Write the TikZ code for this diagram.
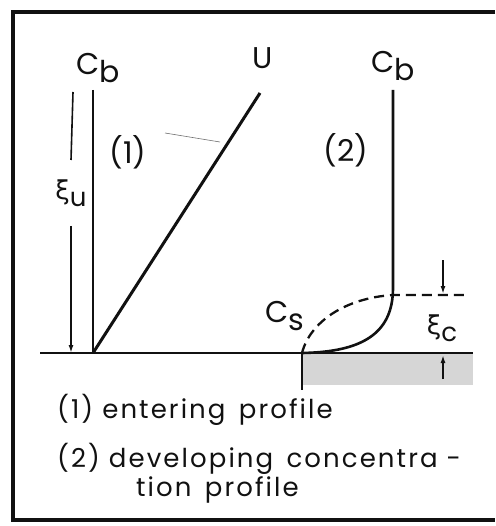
\documentclass[tikz,border=0pt]{standalone}
\usepackage{fontspec}
\setmainfont{Poppins}
\newfontfamily\grk{DejaVu Sans}
\newfontfamily\wide[LetterSpace=8]{Poppins}
\usepackage{tikz}
\usetikzlibrary{positioning,arrows.meta,calc}
\definecolor{cInk}{HTML}{111111}
\definecolor{cShade}{HTML}{D6D6D6}
\tikzset{
	prof/.style={draw=cInk, line width=2.6pt},
	thinl/.style={draw=cInk, line width=1.6pt},
	arr/.style={-{Latex[length=8pt,width=5pt]}, draw=cInk, line width=1.6pt},
	lab/.style={font=\fontsize{30}{34}\selectfont, text=cInk, inner sep=0pt},
	small/.style={font=\fontsize{26}{30}\selectfont, text=cInk, inner sep=0pt},
	legend/.style={font=\wide\fontsize{26}{30}\selectfont, text=cInk, inner sep=0pt, anchor=west, align=left},
}
\newcommand{\subb}[1]{\raisebox{-0.5ex}{#1}}

\begin{document}
\begin{tikzpicture}[x=1pt,y=-1pt]
	\useasboundingbox (0,0) rectangle (495,526);
	% frame
	\draw[cInk, line width=3.5pt] (495,12) -- (13,12) -- (13,520) -- (495,520);
	% key points
	\coordinate (o1) at (93,353);
	\coordinate (cb1) at (93,90);
	\coordinate (utop) at (260,93);
	\coordinate (bs) at (40,353);
	\coordinate (be) at (473,353);
	\coordinate (cs) at (302,353);
	\coordinate (cb2) at (393,90);
	\coordinate (knee) at (393,288);
	\coordinate (dknee) at (393,295);
	\coordinate (dend) at (468,295);
	\coordinate (tick) at (302,390);
	% wall shading
	\fill[cShade] (cs) rectangle (473,385);
	% profiles
	\draw[thinl, line width=2pt] (bs) -- (be);
	\draw[prof] (cb1) -- (o1);
	\draw[prof, line width=3pt] (o1) -- (utop);
	\draw[prof] (cb2) -- (knee) .. controls (393,335) and (360,352) .. (cs);
	\draw[prof, dashed, dash pattern=on 10pt off 6pt, line width=2.3pt] (cs) .. controls (310,322) and (345,298) .. (dknee) -- (dend);
	\draw[prof, line width=2.2pt] (cs) -- (tick);
	\draw[draw=cInk!60, line width=0.6pt] (165,133) -- (220,142);
	% xi_u
	\node[small] (xiu) at (71,193) {{\grk ξ}\subb{u}};
	\draw[thinl] (73,92) -- (xiu.north |- 0,160);
	\draw[arr] (xiu.south |- 0,226) -- (xiu.south |- o1);
	% xi_c
	\node[small] (xic) at (442,328) {{\grk ξ}\subb{c}};
	\draw[arr] (443,260) -- (443,294);
	\draw[arr] (443,379) -- (443,355);
	% labels
	\node[lab] (lcb1) at (98,68) {C\subb{b}};
	\node[lab] (lu) at (263,58) {U};
	\node[lab] (lcb2) at (393,66) {C\subb{b}};
	\node[lab] (l1) at (128,152) {(1)};
	\node[lab] (l2) at (346,150) {(2)};
	\node[lab] (lcs) at (285,316) {C\subb{s}};
	% legend
	\node[legend] (k1) at (57,410) {(1) entering\, profile};
	\node[legend] (k2) at (57,459) {(2) developing\, concentra -};
	\node[legend] (k3) at (136,490) {tion\, profile};
\end{tikzpicture}
\end{document}
